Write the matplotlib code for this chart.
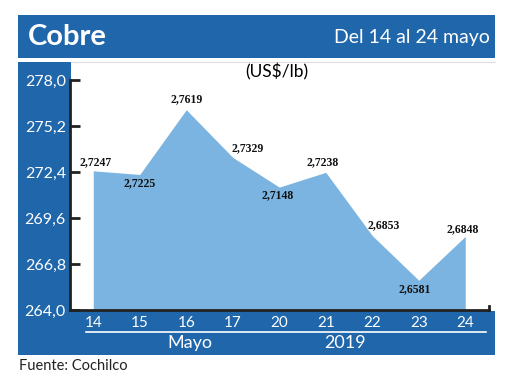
import matplotlib.pyplot as plt
from matplotlib.patches import Rectangle
from matplotlib.lines import Line2D
import numpy as np

days = ['14', '15', '16', '17', '20', '21', '22', '23', '24']
precio = [272.47, 272.25, 276.19, 273.29, 271.48, 272.38, 268.53, 265.81, 268.48]
etiquetas = ['2,7247', '2,7225', '2,7619', '2,7329', '2,7148', '2,7238', '2,6853', '2,6581', '2,6848']
yticks = [264.0, 266.8, 269.6, 272.4, 275.2, 278.0]
ytick_labels = ['264,0', '266,8', '269,6', '272,4', '275,2', '278,0']

BLUE = '#1f66ab'
AREA = '#7bb4e0'
W, H = 520, 390

fig = plt.figure(figsize=(W / 100, H / 100), dpi=100)


def box(x0, y0, x1, y1, color):
    # pixel coords, origin top-left
    fig.add_artist(Rectangle((x0 / W, 1 - y1 / H), (x1 - x0) / W, (y1 - y0) / H,
                             transform=fig.transFigure, color=color, lw=0, zorder=0))


def ftext(x, y, s, **kw):
    fig.text(x / W, 1 - y / H, s, **kw)


# frame
box(18, 15, 495, 58, BLUE)
box(18, 62, 71, 355, BLUE)
box(18, 311, 495, 355, BLUE)
fig.add_artist(Line2D([71 / W, 495 / W], [1 - 62 / H] * 2, color='#dddddd', lw=0.8, zorder=0))
fig.add_artist(Line2D([86 / W, 486 / W], [1 - 332 / H] * 2, color='white', lw=1.2, zorder=1))

ftext(28, 37, 'Cobre', color='white', fontsize=21, fontweight='bold', family='Lato', va='center')
ftext(490, 38, 'Del 14 al 24 mayo', color='white', fontsize=14,
      family=['Liberation Sans Narrow', 'Lato'], ha='right', va='center')
ftext(277, 72, '(US$/lb)', fontsize=12.5, family='Lato', ha='center', va='center')
ftext(190, 343, 'Mayo', color='white', fontsize=13, family='Lato', ha='center', va='center')
ftext(345, 343, '2019', color='white', fontsize=13, family='Lato', ha='center', va='center')
ftext(19, 366, 'Fuente: Cochilco', fontsize=10.5, family='Lato', color='#222222', va='center')

ax = fig.add_axes([70 / W, 1 - 310 / H, 418.5 / W, 230 / H])
ax.set_zorder(2)
ax.set_facecolor('none')

x = np.arange(len(days))
ax.fill_between(x, precio, 264.0, color=AREA, lw=0)
ax.set_xlim(-0.5, 8.5)
ax.set_ylim(264.0, 278.0)

offsets = [(1.5, 6.5), (0, -6), (0, 7.7), (10.5, 6.8), (-1.5, -5.8),
           (-2.5, 7.4), (8, 7.6), (-3.2, -6.3), (-2, 5.3)]
for xi, yi, lab, off in zip(x, precio, etiquetas, offsets):
    ax.annotate(lab, (xi, yi), xytext=off, textcoords='offset points',
                ha='center', va='center', fontsize=8.5, fontweight='bold',
                family='Liberation Serif', color='#111111', annotation_clip=False)

ax.set_yticks(yticks, ytick_labels)
ax.set_xticks(x, days)
ax.spines['top'].set_visible(False)
ax.spines['right'].set_bounds(264.0, 264.22)
for s in ['left', 'bottom', 'right']:
    ax.spines[s].set_linewidth(2)
    ax.spines[s].set_color('#222222')
ax.tick_params(axis='y', direction='in', length=7, width=2, color='#222222',
               labelcolor='white', labelsize=11.5, pad=3)
ax.tick_params(axis='x', length=0, labelcolor='white', labelsize=11, pad=4)
for t in ax.get_xticklabels() + ax.get_yticklabels():
    t.set_family('Lato')

fig.savefig('out.png', dpi=100)
